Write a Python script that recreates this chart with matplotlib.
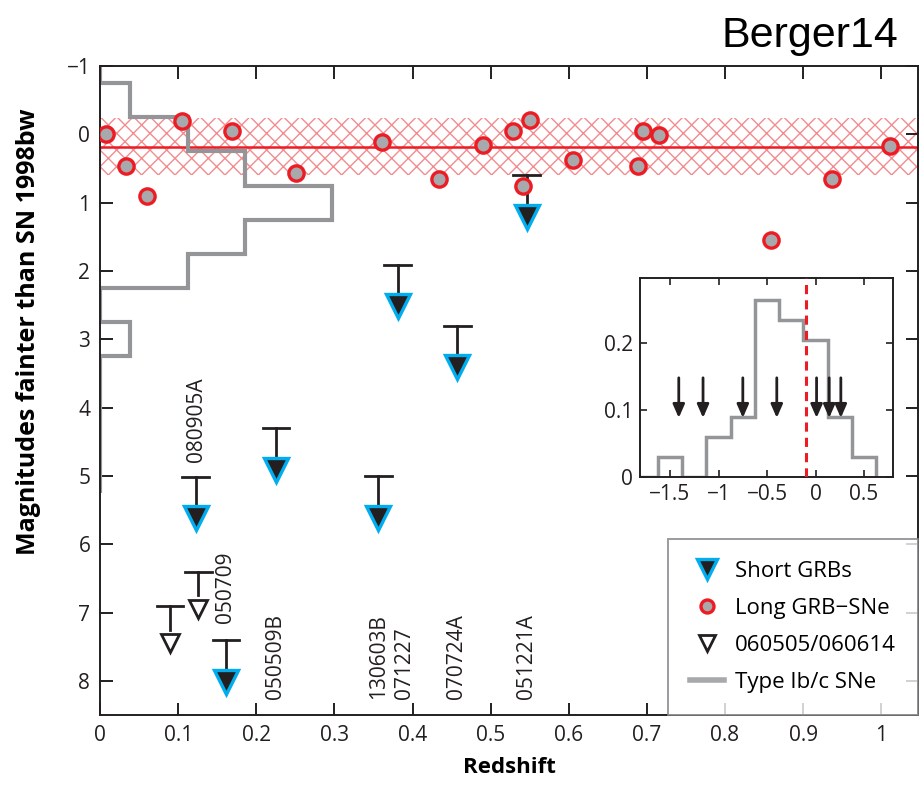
import matplotlib
matplotlib.use('Agg')
import matplotlib.pyplot as plt

# long GRB-SNe (redshift, mag fainter than 1998bw)
lgrbZ = [0.008, 0.033, 0.060, 0.105, 0.169, 0.251, 0.361, 0.434, 0.490, 0.529,
         0.550, 0.541, 0.606, 0.689, 0.695, 0.716, 0.859, 0.937, 1.011]
lgrbMag = [0.0, 0.46, 0.90, -0.195, -0.05, 0.57, 0.12, 0.65, 0.16, -0.05,
           -0.205, 0.75, 0.37, 0.46, -0.05, 0.015, 1.55, 0.65, 0.17]

# mean and spread of the long GRB-SNe
bandMean = 0.18
bandLow = -0.24
bandHigh = 0.60

# short GRB upper limits
sgrbNames = ['080905A', '050709', '050509B', '130603B', '071227', '070724A', '051221A']
sgrbZ = [0.1225, 0.1613, 0.2254, 0.3563, 0.381, 0.4575, 0.546]
sgrbLim = [5.01, 7.40, 4.30, 5.00, 1.91, 2.80, 0.60]
labelZ = [0.123, 0.161, 0.225, 0.356, 0.390, 0.456, 0.546]
labelMag = [4.79, 7.16, 8.27, 8.27, 8.27, 8.27, 8.27]

# 060505 / 060614
openZ = [0.0896, 0.126]
openLim = [6.90, 6.40]

# Type Ib/c SNe histogram (sideways)
ibcEdges = [-1.25, -0.75, -0.25, 0.25, 0.75, 1.25, 1.75, 2.25, 2.75, 3.25, 3.75, 4.25, 4.75, 5.25]
ibcVals = [0, 0.038, 0.112, 0.186, 0.297, 0.186, 0.112, 0, 0.038, 0, 0, 0, 0]

# inset
insetEdges = [-1.875, -1.625, -1.375, -1.125, -0.875, -0.625, -0.375, -0.125, 0.125, 0.375, 0.625]
insetVals = [0, 0.03, 0, 0.06, 0.09, 0.265, 0.235, 0.205, 0.09, 0.03]
insetArrows = [-1.41, -1.16, -0.75, -0.40, 0.01, 0.14, 0.26]
insetRedLine = -0.10

red = '#ED1C24'
hatchRed = '#F28C8F'
grey = '#A7A9AC'
histGrey = '#939598'
cyan = '#00AEEF'
black = '#231F20'

plt.rcParams['font.family'] = ['Open Sans', 'DejaVu Sans']
plt.rcParams['hatch.linewidth'] = 1.0
plt.rcParams['axes.linewidth'] = 1.4
plt.rcParams['axes.edgecolor'] = black

fig = plt.figure(figsize=(9.22, 7.87), dpi=100)
ax = fig.add_axes([0.1085, 0.0915, 0.8872, 0.8247])

ax.axhspan(bandLow, bandHigh, facecolor='none', edgecolor=hatchRed, hatch='xx', lw=0, zorder=1)
ax.axhline(bandMean, color=red, lw=1.8, zorder=2)

ax.stairs(ibcVals, ibcEdges, orientation='horizontal', baseline=0, color=histGrey, lw=3, zorder=2)

ax.plot(lgrbZ, lgrbMag, 'o', ms=11, mfc=grey, mec=red, mew=2.4, zorder=4, label='Long GRB\u2212SNe')

triOffset = 0.61
for z, lim in zip(sgrbZ, sgrbLim):
    ax.plot([z - 0.017, z + 0.017], [lim, lim], color=black, lw=2, zorder=3)
    ax.plot([z, z], [lim, lim + triOffset], color=black, lw=2, zorder=3)
ax.plot(sgrbZ, [m + triOffset for m in sgrbLim], 'v', ms=17, mfc=black, mec=cyan, mew=2.4,
        zorder=5, label='Short GRBs')

openOffset = 0.55
for z, lim in zip(openZ, openLim):
    ax.plot([z - 0.017, z + 0.017], [lim, lim], color=black, lw=2, zorder=3)
    ax.plot([z, z], [lim, lim + openOffset - 0.2], color=black, lw=2, zorder=3)
ax.plot(openZ, [m + openOffset for m in openLim], 'v', ms=13, mfc='white', mec=black, mew=2,
        zorder=5, label='060505/060614')

for name, z, m in zip(sgrbNames, labelZ, labelMag):
    ax.text(z, m, name, rotation=90, ha='center', va='bottom', fontsize=15, color=black)

ax.plot([], [], color=grey, lw=4, label='Type Ib/c SNe')

ax.set_xlim(0, 1.047)
ax.set_ylim(8.5, -1)
ax.set_xticks([0, 0.1, 0.2, 0.3, 0.4, 0.5, 0.6, 0.7, 0.8, 0.9, 1])
ax.set_xticklabels(['0', '0.1', '0.2', '0.3', '0.4', '0.5', '0.6', '0.7', '0.8', '0.9', '1'])
ax.set_yticks(range(-1, 9))
ax.set_yticklabels(['\u22121'] + [str(i) for i in range(0, 9)])
ax.tick_params(direction='in', length=9, width=1.4, top=True, right=True, labelsize=15,
               colors=black, pad=7)
ax.set_xlabel('Redshift', fontsize=16, fontweight='bold', labelpad=8)
ax.set_ylabel('Magnitudes fainter than SN 1998bw', fontsize=18, fontweight='bold')
ax.yaxis.set_label_coords(-0.072, 0.59)

handles, labels = ax.get_legend_handles_labels()
order = [labels.index(l) for l in ['Short GRBs', 'Long GRB\u2212SNe', '060505/060614', 'Type Ib/c SNe']]
leg = ax.legend([handles[i] for i in order], [labels[i] for i in order], loc='lower right',
                borderaxespad=0, fontsize=16, frameon=True, fancybox=False, edgecolor='#808285',
                handlelength=1.5, handletextpad=0.5, labelspacing=0.72, borderpad=1.0, markerscale=0.85)
leg.get_frame().set_linewidth(1.4)
leg.set_zorder(6)

fig.text(0.974, 0.94, 'Berger14', ha='right', va='baseline', fontsize=31, family='Liberation Sans')

# inset
ins = fig.add_axes([0.6941, 0.3943, 0.2747, 0.2521])
ins.stairs(insetVals, insetEdges, baseline=0, color=histGrey, lw=2.5, zorder=2)
ins.axvline(insetRedLine, color=red, lw=2.2, ls=(0, (3, 2)), zorder=3)
for x in insetArrows:
    ins.annotate('', xy=(x, 0.088), xytext=(x, 0.148),
                 arrowprops=dict(arrowstyle='-|>,head_width=0.35,head_length=0.8',
                                 lw=2, color=black, shrinkA=0, shrinkB=0), zorder=4)
ins.set_xlim(-1.81, 0.8)
ins.set_ylim(0, 0.297)
ins.set_xticks([-1.5, -1, -0.5, 0, 0.5])
ins.set_xticklabels(['\u22121.5', '\u22121', '\u22120.5', '0', '0.5'])
ins.set_yticks([0, 0.1, 0.2])
ins.set_yticklabels(['0', '0.1', '0.2'])
ins.tick_params(direction='in', length=5, width=1.2, top=True, right=True, labelsize=15,
                colors=black, pad=5)

fig.savefig('out.png', dpi=100)
